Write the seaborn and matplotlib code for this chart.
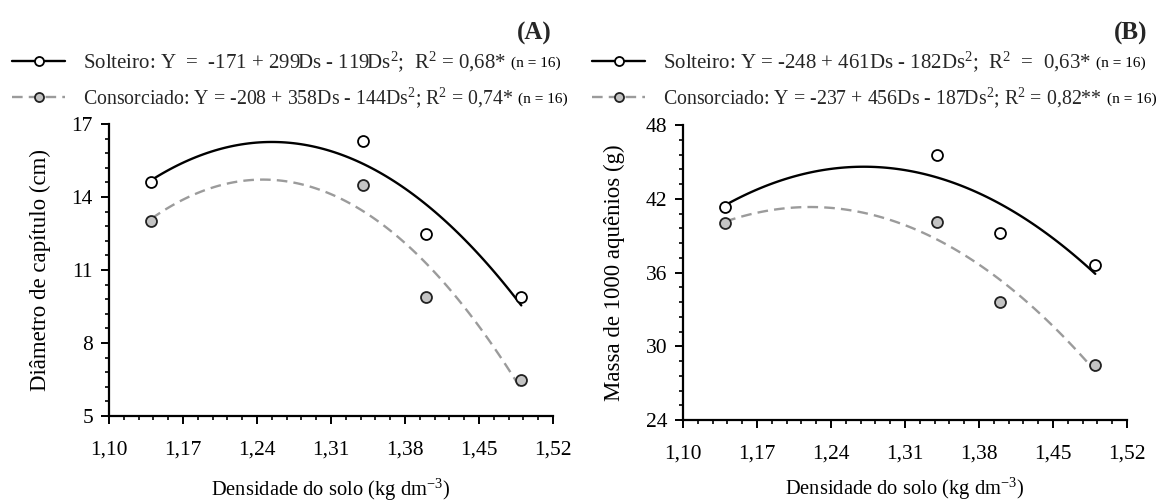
import numpy as np
import pandas as pd
import seaborn as sns
import matplotlib
matplotlib.use("Agg")
import matplotlib.pyplot as plt
from matplotlib.lines import Line2D
from matplotlib.ticker import FixedLocator, AutoMinorLocator, FuncFormatter

# ---------------- data ----------------
ds = [1.14, 1.34, 1.40, 1.49]
diam_solteiro = [14.6, 16.3, 12.5, 9.9]
diam_consorciado = [13.0, 14.5, 9.9, 6.5]
massa_solteiro = [41.3, 45.6, 39.2, 36.6]
massa_consorciado = [40.0, 40.1, 33.6, 28.5]

x_ticks = [1.10, 1.17, 1.24, 1.31, 1.38, 1.45, 1.52]
yA_ticks = [5, 8, 11, 14, 17]
yB_ticks = [24, 30, 36, 42, 48]

panel_A = "(A)"
panel_B = "(B)"
leg_A = ["Solteiro: Y  =  -171 + 299Ds - 119Ds$^{2}$;  R$^{2}$ = 0,68*",
         "Consorciado: Y = -208 + 358Ds - 144Ds$^{2}$; R$^{2}$ = 0,74*"]
leg_B = ["Solteiro: Y = -248 + 461Ds - 182Ds$^{2}$;  R$^{2}$  =  0,63*",
         "Consorciado: Y = -237 + 456Ds - 187Ds$^{2}$; R$^{2}$ = 0,82**"]
n_text = "(n = 16)"
ylabel_A = "Diâmetro de capítulo (cm)"
ylabel_B = "Massa de 1000 aquênios (g)"
xlabel = "Densidade do solo (kg dm$^{-3}$)"

# ---------------- style ----------------
sns.set_theme(style="white")
plt.rcParams["font.family"] = ["Liberation Serif", "DejaVu Serif"]
plt.rcParams["mathtext.fontset"] = "custom"
plt.rcParams["mathtext.rm"] = "Liberation Serif"
plt.rcParams["mathtext.it"] = "Liberation Serif:italic"
plt.rcParams["mathtext.bf"] = "Liberation Serif:bold"

W, H = 1158, 503
fig = plt.figure(figsize=(W / 100, H / 100), dpi=100)
fig.patch.set_facecolor("white")

def px_rect(x0, x1, y0, y1):
    return [x0 / W, 1 - y1 / H, (x1 - x0) / W, (y1 - y0) / H]

axA = fig.add_axes(px_rect(109, 553, 124, 416))
axB = fig.add_axes(px_rect(683, 1127, 125, 420))

BLACK = "black"
GRAY_LINE = "#9b9b9b"
GRAY_FILL = "#c4c4c4"
TICKFS = 15.5
XLABFS = 14.8
YLABFS = 16.5
DASH = (0, (4.5, 2.6))

def draw(ax, solt, cons, yticks, ylabel, xpad):
    sns.regplot(x=ds, y=solt, order=2, ci=None, scatter=False, truncate=True,
                line_kws=dict(color=BLACK, lw=1.7, zorder=2), ax=ax)
    sns.regplot(x=ds, y=cons, order=2, ci=None, scatter=False, truncate=True,
                line_kws=dict(color=GRAY_LINE, lw=1.7, linestyle=DASH, zorder=2), ax=ax)
    sns.scatterplot(x=ds, y=solt, marker="o", s=62, color="white", edgecolor=BLACK,
                    linewidth=1.3, zorder=4, ax=ax)
    sns.scatterplot(x=ds, y=cons, marker="o", s=62, color=GRAY_FILL, edgecolor="#222222",
                    linewidth=1.3, zorder=4, ax=ax)
    ax.set_xlim(x_ticks[0], x_ticks[-1])
    ax.set_ylim(yticks[0], yticks[-1])
    ax.xaxis.set_major_locator(FixedLocator(x_ticks))
    ax.yaxis.set_major_locator(FixedLocator(yticks))
    ax.xaxis.set_minor_locator(AutoMinorLocator(5))
    ax.yaxis.set_minor_locator(AutoMinorLocator(5))
    ax.xaxis.set_major_formatter(FuncFormatter(lambda v, _: f"{v:.2f}".replace(".", ",")))
    ax.yaxis.set_major_formatter(FuncFormatter(lambda v, _: f"{v:.0f}"))
    for s in ["top", "right"]:
        ax.spines[s].set_visible(False)
    for s in ["left", "bottom"]:
        ax.spines[s].set_linewidth(1.6)
        ax.spines[s].set_color(BLACK)
    ax.tick_params(axis="both", which="major", direction="out", length=5.5, width=1.4,
                   color=BLACK, labelsize=TICKFS, labelcolor=BLACK)
    ax.tick_params(axis="x", which="major", pad=12)
    ax.tick_params(axis="y", which="major", pad=6)
    ax.tick_params(axis="both", which="minor", direction="out", length=3.2, width=1.2,
                   color=BLACK)
    ax.tick_params(bottom=True, left=True, which="both")
    ax.set_xlabel(xlabel, fontsize=XLABFS, color=BLACK, labelpad=xpad)
    ax.set_ylabel(ylabel, fontsize=YLABFS, color=BLACK, labelpad=15)
    ax.set_facecolor("white")
    ax.grid(False)

draw(axA, diam_solteiro, diam_consorciado, yA_ticks, ylabel_A, 12.5)
draw(axB, massa_solteiro, massa_consorciado, yB_ticks, ylabel_B, 9)

# ---------------- legends ----------------
h_solt = Line2D([], [], color=BLACK, lw=1.7, marker="o", markersize=6.5,
                markerfacecolor="white", markeredgecolor=BLACK, markeredgewidth=1.3)
h_cons = Line2D([], [], color=GRAY_LINE, lw=1.7, linestyle=DASH, marker="o",
                markersize=6.5, markerfacecolor=GRAY_FILL, markeredgecolor="#222222",
                markeredgewidth=1.3)

legends = []
for (x0, labels) in [(12, leg_A), (592, leg_B)]:
    for (y, h, lab, fs) in [(62, h_solt, labels[0], 15.0), (98, h_cons, labels[1], 14.3)]:
        fs_px = fs * 100 / 72
        lg = fig.legend([h], [lab], loc="center left", bbox_to_anchor=(x0 / W, 1 - y / H),
                        frameon=False, fontsize=fs, handlelength=53 / fs_px,
                        handletextpad=18 / fs_px, borderpad=0, borderaxespad=0)
        legends.append((lg, y))

fig.canvas.draw()
renderer = fig.canvas.get_renderer()
for lg, y in legends:
    ext = lg.get_texts()[0].get_window_extent(renderer)
    fig.text((ext.x1 + 5) / W, 1 - (y + 1) / H, n_text, fontsize=11, ha="left", va="center",
             color=BLACK)

fig.text(552 / W, 1 - 33 / H, panel_A, fontsize=18, fontweight="bold", ha="right", va="center")
fig.text(1147 / W, 1 - 33 / H, panel_B, fontsize=18, fontweight="bold", ha="right", va="center")

fig.savefig("out.png", dpi=100, facecolor="white")
